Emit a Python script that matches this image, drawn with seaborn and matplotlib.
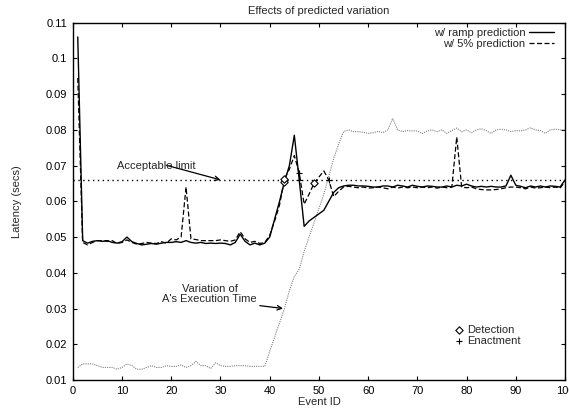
import numpy as np
import pandas as pd
import matplotlib
matplotlib.use("Agg")
import matplotlib.pyplot as plt
import seaborn as sns

# ---- data ----
event_id = list(range(1, 101))

ramp_pred = [
    0.1060, 0.0490, 0.0483, 0.0488, 0.0490, 0.0488, 0.0490, 0.0485, 0.0483, 0.0487,
    0.0500, 0.0487, 0.0482, 0.0478, 0.0480, 0.0482, 0.0480, 0.0483, 0.0485, 0.0485,
    0.0487, 0.0485, 0.0490, 0.0485, 0.0483, 0.0485, 0.0482, 0.0483, 0.0482, 0.0483,
    0.0482, 0.0478, 0.0485, 0.0508, 0.0488, 0.0478, 0.0483, 0.0478, 0.0483, 0.0500,
    0.0550, 0.0600, 0.0655, 0.0700, 0.0785, 0.0660, 0.0530, 0.0545, 0.0555, 0.0565,
    0.0575, 0.0600, 0.0625, 0.0638, 0.0643, 0.0645, 0.0645, 0.0643, 0.0643, 0.0642,
    0.0640, 0.0640, 0.0643, 0.0643, 0.0640, 0.0645, 0.0643, 0.0640, 0.0645, 0.0642,
    0.0640, 0.0643, 0.0642, 0.0640, 0.0640, 0.0643, 0.0640, 0.0645, 0.0643, 0.0648,
    0.0643, 0.0640, 0.0642, 0.0640, 0.0642, 0.0640, 0.0640, 0.0643, 0.0673, 0.0645,
    0.0642, 0.0638, 0.0643, 0.0640, 0.0643, 0.0640, 0.0643, 0.0642, 0.0640, 0.0660,
]

pct5_pred = [
    0.0945, 0.0485, 0.0478, 0.0485, 0.0490, 0.0490, 0.0488, 0.0490, 0.0482, 0.0485,
    0.0492, 0.0485, 0.0480, 0.0482, 0.0485, 0.0483, 0.0482, 0.0487, 0.0483, 0.0495,
    0.0492, 0.0500, 0.0640, 0.0495, 0.0493, 0.0490, 0.0490, 0.0490, 0.0490, 0.0492,
    0.0490, 0.0488, 0.0492, 0.0515, 0.0495, 0.0485, 0.0488, 0.0482, 0.0485, 0.0505,
    0.0545, 0.0590, 0.0663, 0.0690, 0.0728, 0.0680, 0.0592, 0.0620, 0.0650, 0.0668,
    0.0685, 0.0660, 0.0613, 0.0628, 0.0640, 0.0642, 0.0640, 0.0638, 0.0640, 0.0637,
    0.0638, 0.0640, 0.0638, 0.0635, 0.0640, 0.0637, 0.0640, 0.0638, 0.0640, 0.0638,
    0.0640, 0.0638, 0.0640, 0.0637, 0.0640, 0.0638, 0.0640, 0.0780, 0.0640, 0.0638,
    0.0640, 0.0635, 0.0633, 0.0632, 0.0632, 0.0633, 0.0635, 0.0638, 0.0640, 0.0640,
    0.0638, 0.0635, 0.0640, 0.0637, 0.0638, 0.0640, 0.0638, 0.0640, 0.0637, 0.0655,
]

exec_time = [
    0.0135, 0.0145, 0.0145, 0.0145, 0.0140, 0.0135, 0.0135, 0.0135, 0.0130, 0.0135,
    0.0145, 0.0140, 0.0130, 0.0130, 0.0135, 0.0140, 0.0135, 0.0135, 0.0140, 0.0138,
    0.0138, 0.0142, 0.0135, 0.0140, 0.0152, 0.0140, 0.0140, 0.0132, 0.0148, 0.0140,
    0.0138, 0.0138, 0.0140, 0.0140, 0.0140, 0.0138, 0.0138, 0.0138, 0.0138, 0.0180,
    0.0220, 0.0260, 0.0300, 0.0350, 0.0390, 0.0410, 0.0460, 0.0500, 0.0540, 0.0580,
    0.0620, 0.0670, 0.0720, 0.0760, 0.0795, 0.0800, 0.0795, 0.0795, 0.0793, 0.0790,
    0.0792, 0.0796, 0.0792, 0.0800, 0.0832, 0.0800, 0.0795, 0.0798, 0.0797, 0.0797,
    0.0790, 0.0797, 0.0800, 0.0795, 0.0800, 0.0790, 0.0798, 0.0805, 0.0795, 0.0800,
    0.0792, 0.0800, 0.0803, 0.0798, 0.0790, 0.0800, 0.0802, 0.0800, 0.0795, 0.0798,
    0.0797, 0.0800, 0.0806, 0.0800, 0.0798, 0.0790, 0.0800, 0.0802, 0.0800, 0.0800,
]

detect_x = [43, 43, 49]
detect_y = [0.0655, 0.0663, 0.0650]
enact_x = [46, 46, 52]
enact_y = [0.0660, 0.0680, 0.0660]

acceptable_limit = 0.066

xticks = list(range(0, 101, 10))
yticks = [0.01, 0.02, 0.03, 0.04, 0.05, 0.06, 0.07, 0.08, 0.09, 0.10, 0.11]
ytick_labels = ["0.01", "0.02", "0.03", "0.04", "0.05", "0.06", "0.07", "0.08", "0.09", "0.1", "0.11"]

# ---- style ----
sns.set_style("ticks")
plt.rcParams.update({
    "font.family": ["Liberation Sans", "DejaVu Sans"],
    "font.size": 8,
    "axes.linewidth": 1.0,
    "xtick.direction": "in", "ytick.direction": "in",
    "xtick.top": True, "ytick.right": True,
    "xtick.major.size": 3, "ytick.major.size": 3,
    "xtick.color": "black", "ytick.color": "black",
    "axes.edgecolor": "black",
})

df = pd.DataFrame({"event": event_id, "ramp": ramp_pred, "pct5": pct5_pred, "exec": exec_time})

fig = plt.figure(figsize=(5.69, 4.09), dpi=100)
ax = fig.add_axes([0.128, 0.071, 0.865, 0.8735])

sns.lineplot(data=df, x="event", y="exec", ax=ax, color="#808080", lw=0.8,
             linestyle=(0, (1, 1)), label="_nolegend_")
ax.axhline(acceptable_limit, color="black", lw=1.0, ls=(0, (1, 2.5)))
sns.lineplot(data=df, x="event", y="ramp", ax=ax, color="black", lw=1.0,
             label="w/ ramp prediction")
sns.lineplot(data=df, x="event", y="pct5", ax=ax, color="black", lw=0.9,
             linestyle=(0, (4, 2)), label="w/ 5% prediction")

det = ax.scatter(detect_x, detect_y, marker="D", s=14, facecolors="white",
                 edgecolors="black", linewidths=0.8, zorder=5, label="Detection")
ena = ax.scatter(enact_x, enact_y, marker="+", s=22, color="black",
                 linewidths=0.8, zorder=5, label="Enactment")

ax.set_xlim(0, 100)
ax.set_ylim(0.01, 0.11)
ax.set_xticks(xticks)
ax.set_yticks(yticks)
ax.set_yticklabels(ytick_labels)
ax.tick_params(axis="both", labelsize=8, pad=4, width=0.8)
ax.set_xlabel("Event ID", fontsize=8, labelpad=1)
ax.set_ylabel("Latency (secs)", fontsize=8, labelpad=17)
ax.set_title("Effects of predicted variation", fontsize=8, pad=6)

# line legend (gnuplot style: text right-justified, sample on the right)
handles, labels = ax.get_legend_handles_labels()
line_h = [h for h, l in zip(handles, labels) if l.startswith("w/")]
line_l = [l for l in labels if l.startswith("w/")]
leg1 = ax.legend(line_h, line_l, loc="upper right", bbox_to_anchor=(0.978, 0.985),
                 frameon=False, markerfirst=False, handlelength=2.3,
                 handletextpad=0.3, labelspacing=0.05, borderpad=0,
                 borderaxespad=0, fontsize=8)
try:
    for col in leg1._legend_handle_box.get_children():
        col.align = "right"
except Exception:
    pass
ax.add_artist(leg1)

ax.legend([det, ena], ["Detection", "Enactment"], loc="upper left",
          bbox_to_anchor=(0.775, 0.155), frameon=False, handlelength=0.8,
          handletextpad=0.4, labelspacing=0.15, borderpad=0, borderaxespad=0,
          fontsize=8, scatterpoints=1)

arrow = dict(arrowstyle="->", color="black", lw=0.9, shrinkA=0, shrinkB=0)
ax.annotate("", xy=(30, acceptable_limit), xytext=(19, 0.0701), arrowprops=arrow)
ax.text(17, 0.0700, "Acceptable limit", ha="center", va="center", fontsize=8)
ax.annotate("", xy=(42.7, 0.030), xytext=(38, 0.0308), arrowprops=arrow)
ax.text(27.8, 0.0340, "Variation of\nA's Execution Time", ha="center", va="center",
        fontsize=8, linespacing=1.05)

fig.savefig("out.png", dpi=100)
